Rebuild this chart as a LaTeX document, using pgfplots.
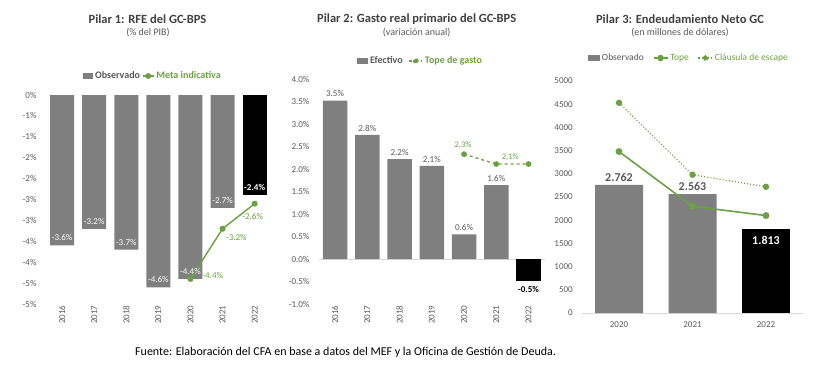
\documentclass[border=0pt]{standalone}
\usepackage{fontspec}
\setmainfont{Carlito}
\usepackage{pgfplots}
\pgfplotsset{compat=1.18}
\definecolor{barG}{HTML}{7F7F7F}
\definecolor{grn}{HTML}{6AA143}
\definecolor{txt}{HTML}{595959}
\definecolor{ttl}{HTML}{404040}
\definecolor{axg}{HTML}{D9D9D9}
\pgfplotsset{
 common/.style={scale only axis, clip=false, axis line style={draw=none}, major tick length=0pt, tick style={draw=none},
  ticklabel style={font=\fontsize{9}{11}\selectfont, text=txt},
  yticklabel style={xshift=-6pt},
  legend style={draw=none, fill=none, inner sep=0pt, outer sep=0pt, legend columns=-1,
     font=\bfseries\fontsize{10}{12}\selectfont, text=txt},
  legend cell align=left,
 },
}
\begin{document}
\begin{tikzpicture}
\path[use as bounding box] (0,0) rectangle (833pt,373pt);
% ---------------- Panel 1 ----------------
\begin{axis}[common, at={(46pt,69pt)}, anchor=south west, width=224.7pt, height=209pt,
 xmin=-0.5, xmax=6.5, ymin=-5, ymax=0,
 xtick={0,1,2,3,4,5,6}, xticklabels={2016,2017,2018,2019,2020,2021,2022},
 xticklabel style={yshift=2pt, rotate=90, anchor=east},
 ytick={-5,-4.5,-4,-3.5,-3,-2.5,-2,-1.5,-1,-0.5,0},
 yticklabels={-5\%,-5\%,-4\%,-4\%,-3\%,-3\%,-2\%,-2\%,-1\%,-1\%,0\%},
 legend style={at={(0.1647,1.0909)}, anchor=west, /tikz/every even column/.append style={column sep=0pt}},
]
\addplot[ybar, bar width=24pt, bar shift=0pt, fill=barG, draw=none,
  legend image code/.code={\fill[barG] (0pt,-3pt) rectangle (10pt,3pt);},
  point meta=explicit symbolic, nodes near coords={\pgfplotspointmeta\%},
  every node near coord/.append style={anchor=south, yshift=1pt, text=white, font=\fontsize{9}{11}\selectfont}]
 table[meta=lab]{
x y lab
0 -3.6 -3.6
1 -3.2 -3.2
2 -3.7 -3.7
3 -4.6 -4.6
4 -4.4 -4.4
5 -2.7 -2.7
};
\addlegendentry{Observado}
\addplot[ybar, bar width=24pt, bar shift=0pt, fill=black, draw=none, forget plot,
  point meta=explicit symbolic, nodes near coords={\pgfplotspointmeta\%},
  every node near coord/.append style={anchor=south, yshift=1pt, text=white, font=\bfseries\fontsize{9}{11}\selectfont}]
 table[meta=lab]{
x y lab
6 -2.4 -2.4
};
\addplot[grn, line width=1.4pt, mark=*, mark size=2.3pt,
  legend image code/.code={\draw[grn, line width=1.4pt] (0pt,0pt) -- (11pt,0pt); \fill[grn] (5.5pt,0pt) circle (2.2pt);}]
 table{
x y
4 -4.4
5 -3.2
6 -2.6
};
\addlegendentry{\textcolor{grn}{Meta indicativa}}
\addplot[draw=none, mark=none, forget plot, point meta=explicit symbolic, nodes near coords={\pgfplotspointmeta\%},
  every node near coord/.append style={anchor=west, xshift=8.5pt, yshift=3pt, text=grn, font=\fontsize{9}{11}\selectfont}]
 table[meta=lab]{
x y lab
4 -4.4 -4.4
};
\addplot[draw=none, mark=none, forget plot, point meta=explicit symbolic, nodes near coords={\pgfplotspointmeta\%},
  every node near coord/.append style={anchor=west, xshift=0pt, yshift=-9pt, text=grn, font=\fontsize{9}{11}\selectfont}]
 table[meta=lab]{
x y lab
5 -3.2 -3.2
};
\addplot[draw=none, mark=none, forget plot, point meta=explicit symbolic, nodes near coords={\pgfplotspointmeta\%},
  every node near coord/.append style={anchor=center, xshift=-2pt, yshift=-13pt, text=grn, font=\fontsize{9}{11}\selectfont}]
 table[meta=lab]{
x y lab
6 -2.6 -2.6
};
\end{axis}
% ---------------- Panel 2 ----------------
\begin{axis}[common, at={(318.9pt,69pt)}, anchor=south west, width=225.75pt, height=225pt,
 xmin=-0.5, xmax=6.5, ymin=-1, ymax=4,
 xtick={0,1,2,3,4,5,6}, xticklabels={2016,2017,2018,2019,2020,2021,2022},
 xticklabel style={yshift=2pt, rotate=90, anchor=east},
 ytick={-1,-0.5,0,0.5,1,1.5,2,2.5,3,3.5,4},
 yticklabels={-1.0\%,-0.5\%,0.0\%,0.5\%,1.0\%,1.5\%,2.0\%,2.5\%,3.0\%,3.5\%,4.0\%},
 extra y ticks={0}, extra y tick labels={}, extra y tick style={grid=major, major grid style={axg, line width=0.8pt}},
 legend style={at={(0.1688,1.08)}, anchor=west, /tikz/every even column/.append style={column sep=4pt}},
]
\addplot[ybar, bar width=24.5pt, bar shift=0pt, fill=barG, draw=none,
  legend image code/.code={\fill[barG] (0pt,-3pt) rectangle (11pt,3pt);},
  point meta=explicit symbolic, nodes near coords={\pgfplotspointmeta\%},
  every node near coord/.append style={anchor=south, text=txt, font=\fontsize{9}{11}\selectfont}]
 table[meta=lab]{
x y lab
0 3.52 3.5
1 2.76 2.8
2 2.22 2.2
3 2.07 2.1
4 0.55 0.6
5 1.64 1.6
};
\addlegendentry{Efectivo}
\addplot[ybar, bar width=24.5pt, bar shift=0pt, fill=black, draw=none, forget plot,
  point meta=explicit symbolic, nodes near coords={\pgfplotspointmeta\%},
  every node near coord/.append style={anchor=north, yshift=-2pt, text=black, font=\bfseries\fontsize{9}{11}\selectfont}]
 table[meta=lab]{
x y lab
6 -0.48 -0.5
};
\addplot[grn, line width=1.3pt, dashed, mark=*, mark size=2.2pt, mark options={solid},
  legend image code/.code={\draw[grn, line width=1.3pt, dashed] (0pt,0pt) -- (13pt,0pt); \fill[grn] (6.5pt,0pt) circle (2.2pt);}]
 table{
x y
4 2.33
5 2.11
6 2.11
};
\addlegendentry{\textcolor{grn}{Tope de gasto}}
\addplot[draw=none, mark=none, forget plot, point meta=explicit symbolic, nodes near coords={\pgfplotspointmeta\%},
  every node near coord/.append style={anchor=center, xshift=-1pt, yshift=9pt, text=grn, font=\fontsize{8.5}{10}\selectfont}]
 table[meta=lab]{
x y lab
4 2.33 2,3
};
\addplot[draw=none, mark=none, forget plot, point meta=explicit symbolic, nodes near coords={\pgfplotspointmeta\%},
  every node near coord/.append style={anchor=center, xshift=14pt, yshift=7pt, text=grn, font=\fontsize{8.5}{10}\selectfont}]
 table[meta=lab]{
x y lab
5 2.11 2,1
};
\end{axis}
% ---------------- Panel 3 ----------------
\begin{axis}[common, at={(582.25pt,60pt)}, anchor=south west, width=220.5pt, height=232pt,
 xmin=-0.5, xmax=2.5, ymin=0, ymax=5000,
 xtick={0,1,2}, xticklabels={2020,2021,2022},
 xticklabel style={yshift=-5pt},
 ytick={0,500,1000,1500,2000,2500,3000,3500,4000,4500,5000},
 yticklabels={0,500,1000,1500,2000,2500,3000,3500,4000,4500,5000},
 extra y ticks={0}, extra y tick labels={}, extra y tick style={grid=major, major grid style={axg, line width=0.8pt}},
 legend style={at={(0.026,1.099)}, anchor=west, font=\fontsize{9.5}{11}\selectfont, /tikz/every even column/.append style={column sep=7pt}},
]
\addplot[ybar, bar width=48pt, bar shift=0pt, fill=barG, draw=none,
  legend image code/.code={\fill[barG] (0pt,-3pt) rectangle (12pt,3pt);},
  point meta=explicit symbolic, nodes near coords={\pgfplotspointmeta},
  every node near coord/.append style={anchor=south, text=txt, font=\bfseries\fontsize{12}{14}\selectfont}]
 table[meta=lab]{
x y lab
0 2762 2.762
1 2563 2.563
};
\addlegendentry{Observado}
\addplot[ybar, bar width=48pt, bar shift=0pt, fill=black, draw=none, forget plot,
  point meta=explicit symbolic, nodes near coords={\pgfplotspointmeta},
  every node near coord/.append style={anchor=north, yshift=-4pt, text=white, font=\bfseries\fontsize{12}{14}\selectfont}]
 table[meta=lab]{
x y lab
2 1813 1.813
};
\addplot[grn, line width=1.6pt, mark=*, mark size=2.6pt,
  legend image code/.code={\draw[grn, line width=1.6pt] (0pt,0pt) -- (14pt,0pt); \fill[grn] (7pt,0pt) circle (2.4pt);}]
 table{
x y
0 3480
1 2300
2 2100
};
\addlegendentry{\textcolor{grn}{Tope}}
\addplot[grn, line width=1.1pt, dotted, mark=*, mark size=2.6pt, mark options={solid},
  legend image code/.code={\draw[grn, line width=1.1pt, dotted] (0pt,0pt) -- (14pt,0pt); \fill[grn] (7pt,0pt) circle (2.4pt);}]
 table{
x y
0 4530
1 2980
2 2720
};
\addlegendentry{\textcolor{grn}{Cláusula de escape}}
\end{axis}
% ---------------- Titles ----------------
\node[font=\bfseries\fontsize{12.5}{15}\selectfont, text=ttl] at (147.5pt,354pt) {Pilar 1: RFE del GC-BPS};
\node[font=\fontsize{10}{12}\selectfont, text=txt] at (148pt,340pt) {(\% del PIB)};
\node[font=\bfseries\fontsize{12.5}{15}\selectfont, text=ttl] at (416.7pt,354pt) {Pilar 2: Gasto real primario del GC-BPS};
\node[font=\fontsize{10}{12}\selectfont, text=txt] at (416.7pt,340pt) {(variación anual)};
\node[font=\bfseries\fontsize{12.5}{15}\selectfont, text=ttl] at (680pt,354pt) {Pilar 3: Endeudamiento Neto GC};
\node[font=\fontsize{10}{12}\selectfont, text=txt] at (680pt,340pt) {(en millones de dólares)};
\node[anchor=west, inner sep=0pt, font=\fontsize{12}{14}\selectfont] at (135pt,21pt) {Fuente: Elaboración del CFA en base a datos del MEF y la Oficina de Gestión de Deuda.};
\end{tikzpicture}
\end{document}
